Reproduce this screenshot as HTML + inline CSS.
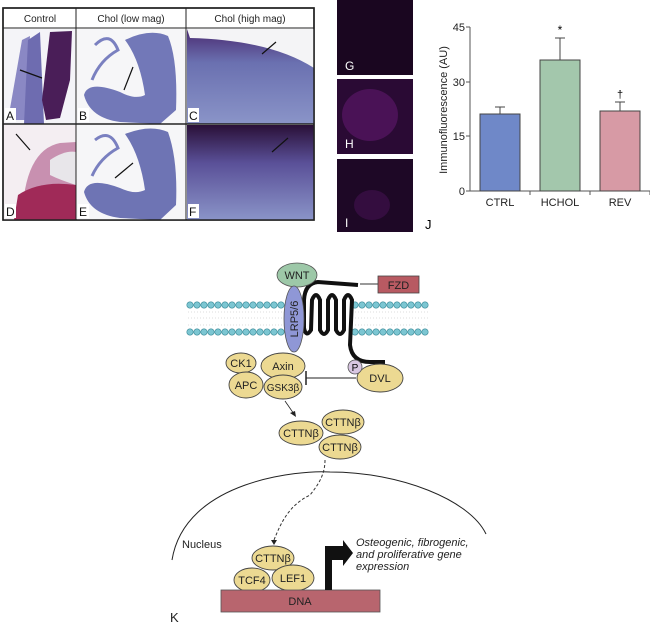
<!DOCTYPE html>
<html><head><meta charset="utf-8"><style>
html,body{margin:0;padding:0;background:#fff;}
svg{display:block;font-family:"Liberation Sans",sans-serif;}
</style></head><body>
<svg width="650" height="626" viewBox="0 0 650 626" xmlns="http://www.w3.org/2000/svg">
<defs>
<linearGradient id="tC" x1="0" y1="0" x2="0" y2="1"><stop offset="0" stop-color="#4a2a70"/><stop offset="0.35" stop-color="#6a70b0"/><stop offset="1" stop-color="#8a94c8"/></linearGradient>
<linearGradient id="tF" x1="0" y1="0" x2="0" y2="1"><stop offset="0" stop-color="#2a1038"/><stop offset="0.4" stop-color="#5a5098"/><stop offset="1" stop-color="#8a94c8"/></linearGradient>
<clipPath id="cA"><rect x="4" y="29" width="72" height="95"/></clipPath>
<clipPath id="cB"><rect x="77" y="29" width="109" height="95"/></clipPath>
<clipPath id="cD"><rect x="4" y="125" width="72" height="95"/></clipPath>
<clipPath id="cE"><rect x="77" y="125" width="109" height="95"/></clipPath>
</defs>
<rect x="3" y="8" width="311" height="212" fill="#fff" stroke="#222" stroke-width="1.5"/>
<g font-size="10" fill="#222" text-anchor="middle">
<text x="40" y="22">Control</text><text x="131" y="22">Chol (low mag)</text><text x="250" y="22">Chol (high mag)</text>
</g>
<!-- A -->
<g clip-path="url(#cA)">
<rect x="4" y="29" width="72" height="95" fill="#f4f4f8"/>
<path d="M8 120 L22 40 L30 36 L26 120 Z" fill="#8a88c4"/>
<path d="M24 124 L28 40 L40 32 L44 124 Z" fill="#6e6cb0"/>
<path d="M42 100 L50 32 L72 31 L70 80 L60 118 L46 120 Z" fill="#4a1e58"/>
</g>
<!-- B -->
<g clip-path="url(#cB)">
<rect x="77" y="29" width="109" height="95" fill="#f6f6f8"/>
<path d="M125 40 Q150 28 168 36 Q178 60 176 110 L160 124 L120 122 Q90 118 84 95 Q88 80 120 92 Q135 100 145 95 Q140 60 125 40 Z" fill="#7278b8"/>
<path d="M95 45 Q110 30 118 50 Q100 60 92 80" fill="none" stroke="#7a80c0" stroke-width="3"/>
</g>
<!-- C -->
<rect x="187" y="29" width="127" height="95" fill="url(#tC)"/>
<path d="M187 29 L314 29 L314 68 Q270 40 190 38 Z" fill="#f4f4f6"/>
<!-- D -->
<g clip-path="url(#cD)">
<rect x="4" y="125" width="72" height="95" fill="#f4eef2"/>
<path d="M22 220 Q24 150 60 143 L76 142 L76 220 Z" fill="#c890b0"/>
<path d="M14 220 L18 195 Q40 180 76 185 L76 220 Z" fill="#a02a58"/>
<path d="M50 160 Q65 150 76 152 L76 185 Q60 180 50 175 Z" fill="#e8e6ea"/>
<line x1="16" y1="134" x2="30" y2="150" stroke="#111" stroke-width="1.2"/>
</g>
<!-- E -->
<g clip-path="url(#cE)">
<rect x="77" y="125" width="109" height="95" fill="#f6f6f8"/>
<path d="M125 134 Q150 124 168 132 Q178 160 176 205 L160 220 L120 218 Q90 214 84 192 Q88 176 120 188 Q135 195 145 190 Q140 155 125 134 Z" fill="#6e74b4"/>
<path d="M95 140 Q110 128 118 148 Q100 158 92 176" fill="none" stroke="#7a80c0" stroke-width="3"/>
</g>
<rect x="187" y="125" width="127" height="95" fill="url(#tF)"/>
<line x1="3" y1="28" x2="314" y2="28" stroke="#222"/>
<line x1="76" y1="8" x2="76" y2="220" stroke="#222"/>
<line x1="186" y1="8" x2="186" y2="220" stroke="#222"/>
<line x1="3" y1="124" x2="314" y2="124" stroke="#222" stroke-width="1.5"/>
<rect x="3" y="8" width="311" height="212" fill="none" stroke="#222" stroke-width="1.5"/>
<g stroke="#111" stroke-width="1.2">
<line x1="20" y1="70" x2="42" y2="78"/><line x1="133" y1="67" x2="124" y2="90"/><line x1="276" y1="42" x2="262" y2="54"/>
<line x1="133" y1="163" x2="115" y2="178"/><line x1="288" y1="138" x2="272" y2="152"/>
</g>
<g font-size="12" fill="#111">
<rect x="5" y="108" width="11" height="14" fill="#fff"/><text x="6" y="120">A</text>
<rect x="78" y="108" width="11" height="14" fill="#fff"/><text x="79" y="120">B</text>
<rect x="188" y="108" width="11" height="14" fill="#fff"/><text x="189" y="120">C</text>
<rect x="5" y="204" width="11" height="14" fill="#fff"/><text x="6" y="216">D</text>
<rect x="78" y="204" width="11" height="14" fill="#fff"/><text x="79" y="216">E</text>
<rect x="188" y="204" width="11" height="14" fill="#fff"/><text x="189" y="216">F</text>
</g>
<!-- fluorescence -->
<rect x="337" y="0" width="76" height="75" fill="#1a0620"/>
<rect x="337" y="79" width="76" height="75" fill="#2a0a34"/>
<ellipse cx="370" cy="115" rx="28" ry="26" fill="#6a1a78" opacity="0.5"/>
<rect x="337" y="159" width="76" height="73" fill="#1e0826"/>
<ellipse cx="372" cy="205" rx="18" ry="15" fill="#4a1258" opacity="0.5"/>
<g font-size="12" fill="#fff"><text x="345" y="70">G</text><text x="345" y="148">H</text><text x="345" y="227">I</text></g>
<!-- bar chart -->
<g stroke="#555" stroke-width="1" fill="none">
<line x1="470" y1="27" x2="470" y2="191"/>
<line x1="470" y1="191" x2="650" y2="191"/>
<line x1="466" y1="27" x2="470" y2="27"/><line x1="466" y1="82" x2="470" y2="82"/><line x1="466" y1="136" x2="470" y2="136"/><line x1="466" y1="191" x2="470" y2="191"/>
<line x1="530" y1="191" x2="530" y2="195"/><line x1="590" y1="191" x2="590" y2="195"/><line x1="650" y1="191" x2="650" y2="195"/>
</g>
<g font-size="11" fill="#222" text-anchor="end">
<text x="465" y="31">45</text><text x="465" y="86">30</text><text x="465" y="140">15</text><text x="465" y="195">0</text>
</g>
<text transform="translate(447,110) rotate(-90)" font-size="11" fill="#222" text-anchor="middle">Immunofluorescence (AU)</text>
<g stroke="#444" stroke-width="1">
<line x1="500" y1="114" x2="500" y2="107"/><line x1="495" y1="107" x2="505" y2="107"/>
<line x1="560" y1="60" x2="560" y2="38"/><line x1="555" y1="38" x2="565" y2="38"/>
<line x1="620" y1="111" x2="620" y2="102"/><line x1="615" y1="102" x2="625" y2="102"/>
</g>
<rect x="480" y="114" width="40" height="77" fill="#6f88c8" stroke="#444"/>
<rect x="540" y="60" width="40" height="131" fill="#a3c7ac" stroke="#444"/>
<rect x="600" y="111" width="40" height="80" fill="#d79aa5" stroke="#444"/>
<text x="560" y="34" font-size="12" text-anchor="middle">*</text>
<text x="620" y="98" font-size="11" text-anchor="middle">†</text>
<g font-size="11" fill="#222" text-anchor="middle">
<text x="500" y="206">CTRL</text><text x="560" y="206">HCHOL</text><text x="620" y="206">REV</text>
</g>
<text x="425" y="229" font-size="13">J</text>
<!-- membrane -->
<g fill="#7cc6d2" stroke="#3a8a98" stroke-width="0.6">
<g id="row1">
<circle cx="190" cy="305" r="3.2"/><circle cx="197" cy="305" r="3.2"/><circle cx="204" cy="305" r="3.2"/><circle cx="211" cy="305" r="3.2"/><circle cx="218" cy="305" r="3.2"/><circle cx="225" cy="305" r="3.2"/><circle cx="232" cy="305" r="3.2"/><circle cx="239" cy="305" r="3.2"/><circle cx="246" cy="305" r="3.2"/><circle cx="253" cy="305" r="3.2"/><circle cx="260" cy="305" r="3.2"/><circle cx="267" cy="305" r="3.2"/><circle cx="274" cy="305" r="3.2"/><circle cx="281" cy="305" r="3.2"/>
<circle cx="355" cy="305" r="3.2"/><circle cx="362" cy="305" r="3.2"/><circle cx="369" cy="305" r="3.2"/><circle cx="376" cy="305" r="3.2"/><circle cx="383" cy="305" r="3.2"/><circle cx="390" cy="305" r="3.2"/><circle cx="397" cy="305" r="3.2"/><circle cx="404" cy="305" r="3.2"/><circle cx="411" cy="305" r="3.2"/><circle cx="418" cy="305" r="3.2"/><circle cx="425" cy="305" r="3.2"/>
</g>
<use href="#row1" y="27"/>
</g>
<g stroke="#bbb" stroke-width="0.5">
<line x1="188" y1="312" x2="284" y2="312" stroke-dasharray="1,2"/><line x1="188" y1="318" x2="284" y2="318" stroke-dasharray="1,2"/><line x1="188" y1="325" x2="284" y2="325" stroke-dasharray="1,2"/>
<line x1="352" y1="312" x2="430" y2="312" stroke-dasharray="1,2"/><line x1="352" y1="318" x2="430" y2="318" stroke-dasharray="1,2"/><line x1="352" y1="325" x2="430" y2="325" stroke-dasharray="1,2"/>
</g>
<path d="M358 285 L318 282 Q305 283 304 300 L304 328 Q306 338 311 330 L312 300 Q316 290 320 300 L320 330 Q324 338 328 330 L328 300 Q332 290 336 300 L336 330 Q340 338 344 330 L344 300 Q348 290 352 300 L350 345 Q352 362 370 362 L385 362" fill="none" stroke="#111" stroke-width="4"/>
<line x1="360" y1="284" x2="378" y2="284" stroke="#333" stroke-width="1"/>
<rect x="378" y="276" width="41" height="17" fill="#b85a62" stroke="#444" stroke-width="0.8"/>
<text x="398.5" y="289" font-size="11" text-anchor="middle" fill="#222">FZD</text>
<ellipse cx="297" cy="275" rx="20" ry="12" fill="#9dc8a8" stroke="#555" stroke-width="0.8"/>
<text x="297" y="279" font-size="11" text-anchor="middle" fill="#222">WNT</text>
<ellipse cx="294" cy="319" rx="10" ry="33" fill="#8f97d6" stroke="#555" stroke-width="0.8"/>
<text transform="translate(298,319) rotate(-90)" font-size="11" text-anchor="middle" fill="#222">LRP5/6</text>
<g fill="#ecd992" stroke="#444" stroke-width="0.9" >
<ellipse cx="241" cy="363" rx="15" ry="10"/>
<ellipse cx="283" cy="366" rx="22" ry="13"/>
<ellipse cx="246" cy="385" rx="17" ry="13"/>
<ellipse cx="283" cy="387" rx="19" ry="12"/>
<ellipse cx="380" cy="378" rx="23" ry="14"/>
<ellipse cx="301" cy="433" rx="22" ry="12"/>
<ellipse cx="343" cy="422" rx="21" ry="12"/>
<ellipse cx="340" cy="447" rx="21" ry="12"/>
<ellipse cx="273" cy="558" rx="21" ry="12"/>
<ellipse cx="252" cy="580" rx="18" ry="12"/>
<ellipse cx="293" cy="578" rx="21" ry="13"/>
</g>
<circle cx="355" cy="367" r="7" fill="#d8c6e2" stroke="#555" stroke-width="0.8"/>
<text x="355" y="371" font-size="10" text-anchor="middle">P</text>
<g font-size="11" fill="#222" text-anchor="middle">
<text x="241" y="367">CK1</text><text x="283" y="370">Axin</text><text x="246" y="389">APC</text><text x="283" y="391" font-size="10">GSK3β</text>
<text x="380" y="382">DVL</text>
<text x="301" y="437">CTTNβ</text><text x="343" y="426">CTTNβ</text><text x="340" y="451">CTTNβ</text>
<text x="273" y="562">CTTNβ</text><text x="252" y="584">TCF4</text><text x="293" y="582">LEF1</text>
</g>
<line x1="306" y1="378" x2="356" y2="378" stroke="#222" stroke-width="1"/>
<line x1="306" y1="371" x2="306" y2="385" stroke="#222" stroke-width="1.5"/>
<line x1="285" y1="401" x2="294" y2="414" stroke="#222" stroke-width="0.8"/>
<path d="M296 417 L290 413 L295 411 Z" fill="#222"/>
<path d="M172 560 C185 480 300 470 330 472 C400 472 470 500 486 534" fill="none" stroke="#222" stroke-width="1"/>
<path d="M325 460 C325 475 318 485 310 495 C290 505 282 520 274 540" fill="none" stroke="#333" stroke-width="1" stroke-dasharray="3,2"/>
<path d="M271 540 L277 540 L274 545 Z" fill="#222"/>
<text x="182" y="548" font-size="11" fill="#222">Nucleus</text>
<rect x="221" y="590" width="159" height="22" fill="#b8656e" stroke="#555" stroke-width="0.8"/>
<text x="300" y="605" font-size="11" text-anchor="middle" fill="#222">DNA</text>
<path d="M325 590 L325 546 L343 546 L343 540 L353 553 L343 566 L343 560 L332 560 L332 590 Z" fill="#111"/>
<g font-size="11" font-style="italic" fill="#222">
<text x="356" y="546">Osteogenic, fibrogenic,</text>
<text x="356" y="558">and proliferative gene</text>
<text x="356" y="570">expression</text>
</g>
<text x="170" y="622" font-size="13" fill="#222">K</text>
</svg>
</body></html>
